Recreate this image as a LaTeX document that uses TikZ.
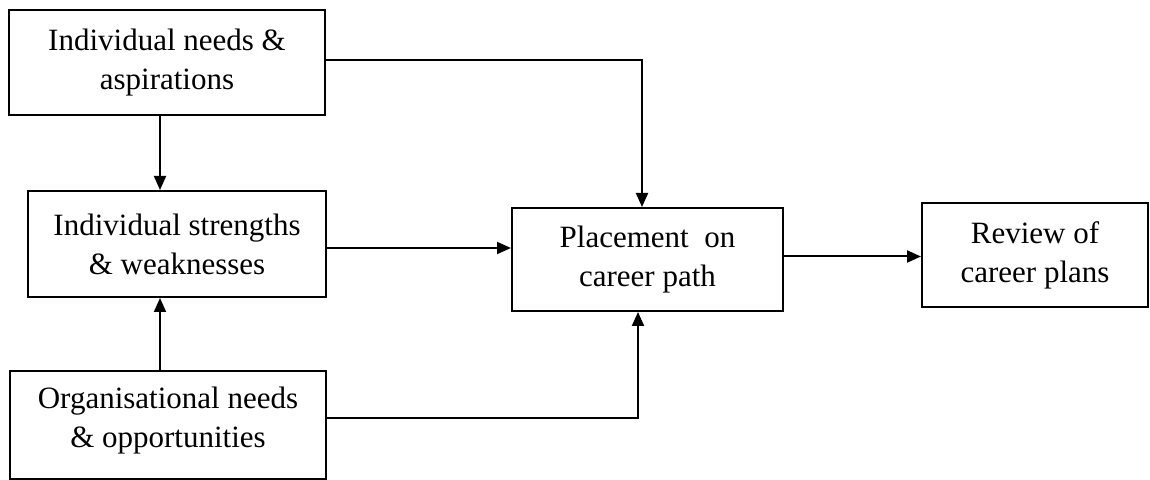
\documentclass[tikz,border=0pt]{standalone}
\usepackage{fontspec}
\setmainfont{Liberation Serif}
\usetikzlibrary{arrows.meta}
\begin{document}
\begin{tikzpicture}[x=0.5pt,y=-0.5pt,
  box/.style={draw, line width=1pt, inner sep=0pt, align=center,
    font=\fontsize{15.5}{19.5}\selectfont},
  lbl/.style={inner sep=0pt, align=center, font=\fontsize{15.5}{19.5}\selectfont},
  arr/.style={line width=1pt, -{Triangle[length=7pt,width=6pt]}}]
\useasboundingbox (0,0) rectangle (1150,480);
\node[box, minimum width=158pt, minimum height=52.5pt] (b1) at (167,62.5) {Individual needs \&\\aspirations};
\node[box, minimum width=149pt, minimum height=53pt] (b2) at (177,244) {Individual strengths\\\& weaknesses};
\node[box, minimum width=158pt, minimum height=54pt] (b3) at (168,425) {};
\node[lbl, anchor=north] (b3t) at ([yshift=-8.5pt]b3.north) {Organisational needs\\\& opportunities};
\node[box, minimum width=135.5pt, minimum height=51.5pt] (b4) at (647.5,259.5) {Placement\ \ on\\career path};
\node[box, minimum width=113pt, minimum height=52pt] (b5) at (1035,255) {Review of\\career plans};
\draw[arr] ([yshift=1.25pt]b1.east) -| ([xshift=-2.75pt]b4.north);
\draw[arr] ([xshift=-3.5pt]b1.south) -- ([xshift=-3.5pt]b1.south |- b2.north);
\draw[arr] ([xshift=-4pt]b3.north) -- ([xshift=-4pt]b3.north |- b2.south);
\draw[arr] ([yshift=-2pt]b2.east) -- ([yshift=-2pt]b2.east -| b4.west);
\draw[arr] ([yshift=3.5pt]b3.east) -| ([xshift=-4.75pt]b4.south);
\draw[arr] ([yshift=1.5pt]b4.east) -- ([yshift=1.5pt]b4.east -| b5.west);
\end{tikzpicture}
\end{document}
